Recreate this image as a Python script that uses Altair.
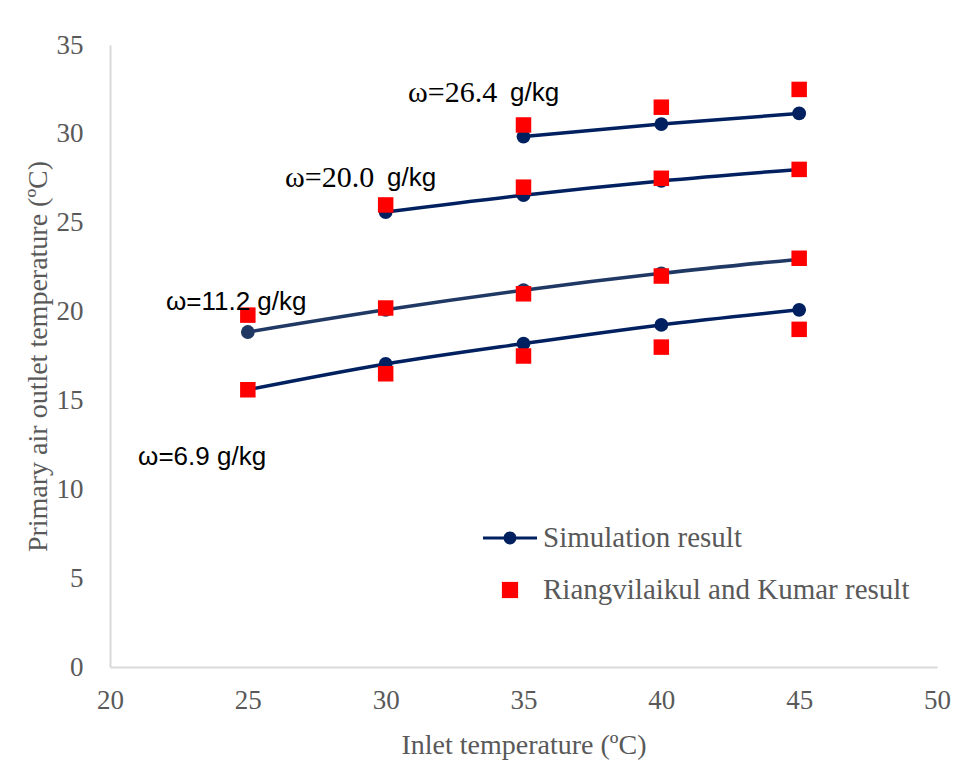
import altair as alt
import pandas as pd

# ---------------- data ----------------
inlet_all = [25, 30, 35, 40, 45]
inlet_200 = [30, 35, 40, 45]
inlet_264 = [35, 40, 45]

groups = ["ω=6.9", "ω=11.2", "ω=20.0", "ω=26.4"]
group_colors = ["#002060", "#203864", "#002060", "#002060"]

sim_69 = [15.6, 17.05, 18.2, 19.25, 20.1]
exp_69 = [15.6, 16.5, 17.5, 18.0, 19.0]
sim_112 = [18.85, 20.1, 21.2, 22.15, 22.95]
exp_112 = [19.8, 20.2, 21.0, 22.0, 23.0]
sim_200 = [25.6, 26.55, 27.35, 28.0]
exp_200 = [26.0, 27.0, 27.5, 28.0]
sim_264 = [29.85, 30.55, 31.15]
exp_264 = [30.5, 31.5, 32.5]

series_names = ["Simulation result", "Riangvilaikul and Kumar result"]

# annotation labels (data coordinates)
serif_labels = ["ω=26.4", "ω=20.0"]
serif_x = [30.81, 26.35]
serif_y = [32.3, 27.52]
sans_labels = ["g/kg", "g/kg", "ω=11.2 g/kg", "ω=6.9 g/kg"]
sans_x = [34.51, 30.05, 22.03, 21.02]
sans_y = [32.3, 27.52, 20.54, 11.82]

x_ticks = [20, 25, 30, 35, 40, 45, 50]
y_ticks = [0, 5, 10, 15, 20, 25, 30, 35]

# ---------------- tables ----------------
rows = []
for g, xs, sim, exp in [
    ("ω=6.9", inlet_all, sim_69, exp_69),
    ("ω=11.2", inlet_all, sim_112, exp_112),
    ("ω=20.0", inlet_200, sim_200, exp_200),
    ("ω=26.4", inlet_264, sim_264, exp_264),
]:
    for x, s in zip(xs, sim):
        rows.append({"group": g, "x": x, "y": s, "series": series_names[0]})
    for x, e in zip(xs, exp):
        rows.append({"group": g, "x": x, "y": e, "series": series_names[1]})
df = pd.DataFrame(rows)
sim_df = df[df.series == series_names[0]]
exp_df = df[df.series == series_names[1]]

serif_df = pd.DataFrame({"t": serif_labels, "x": serif_x, "y": serif_y})
sans_df = pd.DataFrame({"t": sans_labels, "x": sans_x, "y": sans_y})

SERIF = "Liberation Serif"
SANS = "Liberation Sans"
GRAY = "#595959"

x_scale = alt.Scale(domain=[20, 50], nice=False, zero=False)
y_scale = alt.Scale(domain=[0, 35], nice=False)

x_axis = alt.Axis(
    values=x_ticks, title="Inlet temperature (ºC)", grid=False, ticks=False,
    domainColor="#d9d9d9", domainWidth=2, labelFont=SERIF, labelFontSize=27,
    labelColor=GRAY, labelPadding=20, titleFont=SERIF, titleFontSize=28,
    titleFontWeight="normal", titleColor=GRAY, titleBaseline="middle",
    titleY=78, labelFlush=False,
)
y_axis = alt.Axis(
    values=y_ticks, title="Primary air outlet temperature (ºC)", grid=False,
    ticks=False, domainColor="#d9d9d9", domainWidth=2, labelFont=SERIF,
    labelFontSize=27, labelColor=GRAY, labelPadding=27, titleFont=SERIF,
    titleFontSize=28, titleFontWeight="normal", titleColor=GRAY,
    titleAngle=-90, titleBaseline="middle", titleAlign="center",
    titleX=-72, titleY=311, labelFlush=False,
)

X = alt.X("x:Q", scale=x_scale, axis=x_axis)
Y = alt.Y("y:Q", scale=y_scale, axis=y_axis)
group_color = alt.Color("group:N", scale=alt.Scale(domain=groups, range=group_colors), legend=None)

lines = alt.Chart(sim_df).mark_line(strokeWidth=3.5, interpolate="monotone").encode(
    x=X, y=Y, color=group_color, detail="group:N"
)
circles = alt.Chart(sim_df).mark_point(filled=True, shape="circle", size=190, opacity=1).encode(
    x=X, y=Y, color=group_color
)
squares = alt.Chart(exp_df).mark_point(filled=True, shape="square", size=240, opacity=1, color="#ff0000").encode(
    x=X, y=Y
)

line_circle = "M-1,-0.06L1,-0.06L1,0.06L-1,0.06Z M0.24,0A0.24,0.24 0 1 1 -0.24,0A0.24,0.24 0 1 1 0.24,0Z"
small_square = "M-0.3,-0.3L0.3,-0.3L0.3,0.3L-0.3,0.3Z"

legend = alt.Legend(
    title=None, orient="none", legendX=373, legendY=466, padding=0,
    labelFont=SERIF, labelFontSize=29, labelColor=GRAY, labelLimit=0,
    symbolSize=2916, symbolOpacity=1, symbolStrokeWidth=0, labelOffset=6,
    rowPadding=10,
)
legend_layer = alt.Chart(df).mark_point(filled=True, opacity=0, strokeWidth=0).encode(
    x=X, y=Y,
    fill=alt.Fill("series:N", scale=alt.Scale(domain=series_names, range=["#002060", "#ff0000"]), legend=legend),
    shape=alt.Shape("series:N", scale=alt.Scale(domain=series_names, range=[line_circle, small_square]), legend=legend),
)

serif_text = alt.Chart(serif_df).mark_text(
    font="Liberation Serif, Times New Roman, serif", fontSize=30, align="left", baseline="middle", color="#000000"
).encode(x=X, y=Y, text="t:N")
sans_text = alt.Chart(sans_df).mark_text(
    font=SANS, fontSize=26, align="left", baseline="middle", color="#000000"
).encode(x=X, y=Y, text="t:N")

chart = alt.layer(legend_layer, lines, circles, squares, serif_text, sans_text).properties(
    width=827, height=622,
    autosize=alt.AutoSizeParams(type="none"),
    padding={"left": 110, "top": 45, "right": 39, "bottom": 95},
    background="white",
).configure_view(stroke=None)

chart.save("out.html", embed_options={"renderer": "svg", "actions": False})
